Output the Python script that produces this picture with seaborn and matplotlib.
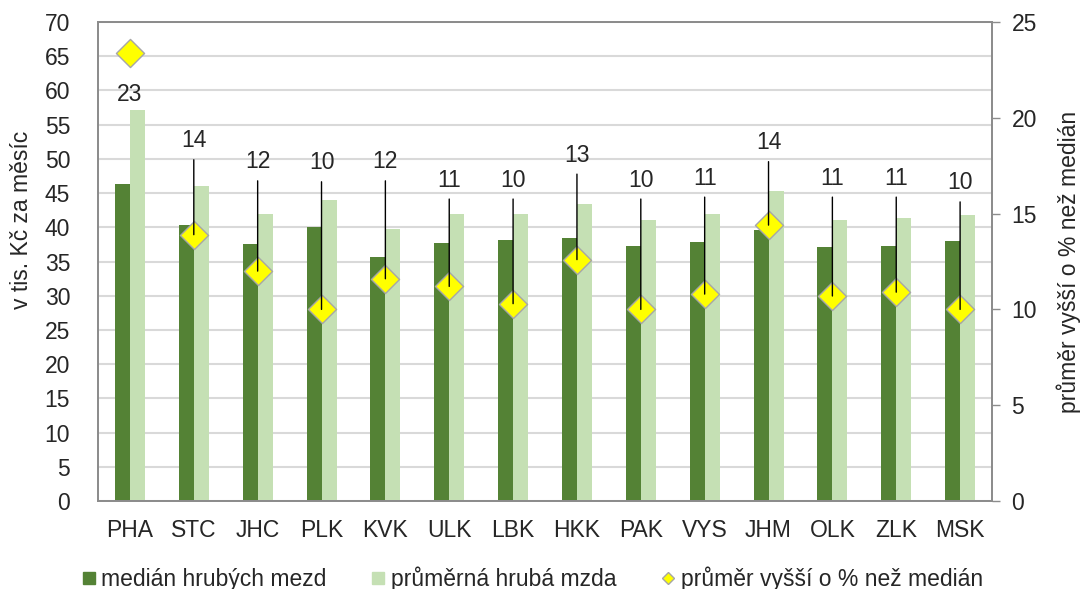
import numpy as np
import pandas as pd
import matplotlib
matplotlib.use("Agg")
import matplotlib.pyplot as plt
import seaborn as sns
from matplotlib.lines import Line2D

sns.set_style("white")
plt.rcParams['font.family'] = ['Liberation Sans', 'DejaVu Sans']
plt.rcParams['font.size'] = 16.5

kraje = ["PHA", "STC", "JHC", "PLK", "KVK", "ULK", "LBK", "HKK", "PAK", "VYS", "JHM", "OLK", "ZLK", "MSK"]
median = [46.4, 40.4, 37.6, 40.1, 35.6, 37.7, 38.1, 38.5, 37.3, 37.9, 39.6, 37.1, 37.3, 38.0]
prumer = [57.2, 46.0, 42.0, 44.0, 39.7, 41.9, 42.0, 43.4, 41.0, 41.9, 45.3, 41.1, 41.3, 41.8]
rozdil = [23.4, 13.9, 12.0, 10.0, 11.6, 11.2, 10.3, 12.6, 10.0, 10.8, 14.4, 10.7, 10.9, 10.0]

s_med = "medián hrubých mezd"
s_pr = "průměrná hrubá mzda"
s_roz = "průměr vyšší o % než medián"

DARK = "#548235"
LIGHT = "#c5e0b4"
YEL = "#ffff00"
GRAY = "#8c8c8c"
FS = 16.5

df = pd.DataFrame({
    "kraj": kraje * 2,
    "mzda": median + prumer,
    "serie": [s_med] * len(kraje) + [s_pr] * len(kraje),
})

fig = plt.figure(figsize=(10.83, 5.89), dpi=100)
ax = fig.add_axes([0.0905, 0.1494, 0.8255, 0.8132])
sns.barplot(data=df, x="kraj", y="mzda", hue="serie", palette=[DARK, LIGHT],
            width=0.47, saturation=1, ax=ax, legend=False, linewidth=0)
ax.set_ylim(0, 70)
ax.set_yticks(np.arange(0, 71, 5))
ax.set_xlim(-0.5, len(kraje) - 0.5)
ax.set_axisbelow(True)
ax.yaxis.grid(True, color="#d9d9d9", lw=1.5)
ax.set_xlabel("")
ax.set_ylabel("v tis. Kč za měsíc", fontsize=FS)
ax.yaxis.set_label_coords(-0.073, 0.587)
ax.tick_params(axis="y", length=0, pad=20, labelsize=FS)
ax.tick_params(axis="x", length=0, pad=13, labelsize=FS)

ax2 = ax.twinx()
pos = np.arange(len(kraje))
sns.scatterplot(x=pos, y=rozdil, marker="D", s=205, color=YEL, edgecolor="#a6a6a6",
                linewidth=1, ax=ax2, zorder=5, legend=False)
ax2.set_ylim(0, 25)
ax2.set_yticks(np.arange(0, 26, 5))
ax2.set_ylabel(s_roz, fontsize=FS, labelpad=14)
ax2.tick_params(axis="y", length=6, width=1, color=GRAY, pad=8, labelsize=FS)

for a in (ax, ax2):
    for sp in a.spines.values():
        sp.set_color(GRAY)
        sp.set_linewidth(1.3)

# label heights (right axis units)
label_y = [21.2, 18.8, 17.7, 17.65, 17.7, 16.75, 16.75, 18.05, 16.75, 16.85, 18.7, 16.85, 16.85, 16.6]
for i, v in enumerate(rozdil):
    txt = f"{v:.0f}"
    if v > label_y[i]:
        ax2.text(pos[i], label_y[i], txt, ha="center", va="center", fontsize=FS, zorder=6)
    else:
        ax2.annotate(txt, xy=(pos[i], v), xytext=(pos[i], label_y[i]),
                     ha="center", va="center", fontsize=FS, zorder=6,
                     arrowprops=dict(arrowstyle="-", color="black", lw=1,
                                     shrinkA=3, shrinkB=0))

handles = [
    Line2D([], [], marker="s", linestyle="", color=DARK, markersize=8),
    Line2D([], [], marker="s", linestyle="", color=LIGHT, markersize=8),
    Line2D([], [], marker="D", linestyle="", color=YEL, markeredgecolor="#a6a6a6",
           markeredgewidth=1, markersize=6),
]
fig.legend(handles, [s_med, s_pr, s_roz], loc="center", bbox_to_anchor=(0.4915, 0.018),
           ncol=3, frameon=False, fontsize=FS, handlelength=0.6, handletextpad=0.25,
           columnspacing=1.95)

fig.savefig("out.png", dpi=100)
